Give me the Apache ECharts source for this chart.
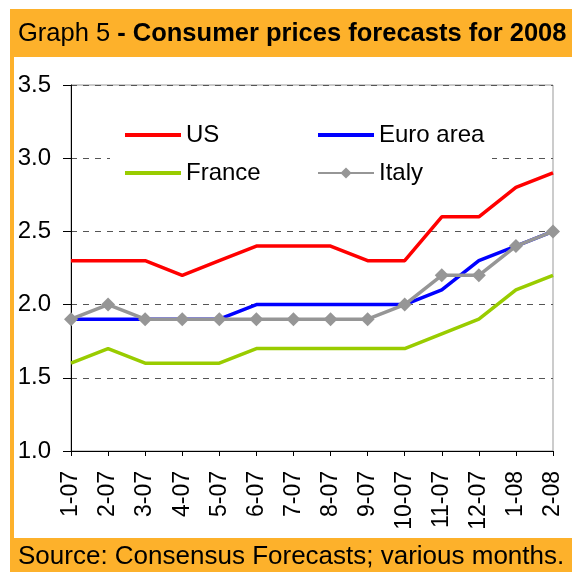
<!DOCTYPE html>
<html>
<head>
<meta charset="utf-8">
<script src="https://cdn.jsdelivr.net/npm/echarts@6/dist/echarts.min.js"></script>
<style>
  html, body { margin: 0; padding: 0; background: #fff; }
  #chart { width: 572px; height: 572px; }
</style>
</head>
<body>
<div id="chart"></div>
<script>
// months of the survey
var months = ['1-07','2-07','3-07','4-07','5-07','6-07','7-07','8-07','9-07','10-07','11-07','12-07','1-08','2-08'];
var usData     = [2.3, 2.3, 2.3, 2.2, 2.3, 2.4, 2.4, 2.4, 2.3, 2.3, 2.6, 2.6, 2.8, 2.9];
var euroData   = [1.9, 1.9, 1.9, 1.9, 1.9, 2.0, 2.0, 2.0, 2.0, 2.0, 2.1, 2.3, 2.4, 2.5];
var franceData = [1.6, 1.7, 1.6, 1.6, 1.6, 1.7, 1.7, 1.7, 1.7, 1.7, 1.8, 1.9, 2.1, 2.2];
var italyData  = [1.9, 2.0, 1.9, 1.9, 1.9, 1.9, 1.9, 1.9, 1.9, 2.0, 2.2, 2.2, 2.4, 2.5];

var orange = '#FDB12B';
var font = 'Liberation Sans, Arial, sans-serif';

var lineSeries = function(name, data, color, marker){
  return {
    name: name,
    type: 'line',
    data: data,
    symbol: marker ? 'diamond' : 'none',
    symbolSize: 14,
    showSymbol: !!marker,
    itemStyle: { color: color },
    lineStyle: { color: color, width: 3.5 },
    emphasis: { disabled: true }
  };
};

var legendText = { fontFamily: font, fontSize: 24, color: '#000' };
var bar = 'path://M0,6h56v4h-56z';

var chart = echarts.init(document.getElementById('chart'));
chart.setOption({
  animation: false,
  backgroundColor: '#fff',
  graphic: [
    // orange frame and white panel
    { type: 'rect', z: -10, shape: { x: 10, y: 9, width: 562, height: 563 }, style: { fill: orange } },
    { type: 'rect', z: -9, shape: { x: 14, y: 57, width: 558, height: 481 }, style: { fill: '#fff' } },
    // white box behind the legend
    { type: 'rect', z: 1, shape: { x: 110, y: 112, width: 382, height: 80 }, style: { fill: '#fff' } }
  ],
  title: [{
    left: 18, top: 21, padding: 0,
    text: '{a|Graph 5 }{b|- Consumer prices forecasts for 2008}',
    textStyle: {
      fontWeight: 'normal',
      rich: {
        a: { fontFamily: font, fontSize: 25.5, fontWeight: 'normal', color: '#000' },
        b: { fontFamily: font, fontSize: 25.5, fontWeight: 'bold', color: '#000' }
      }
    }
  }, {
    left: 18, top: 544, padding: 0,
    text: 'Source: Consensus Forecasts; various months.',
    textStyle: { fontFamily: font, fontSize: 26, fontWeight: 'normal', color: '#000' }
  }],
  legend: [{
    left: 120, top: 118, orient: 'vertical', itemGap: 14,
    itemWidth: 56, itemHeight: 14,
    data: [{ name: 'US', icon: bar }, { name: 'France', icon: bar }],
    textStyle: legendText, z: 5
  }, {
    left: 312, top: 118, orient: 'vertical', itemGap: 14,
    itemWidth: 56, itemHeight: 14,
    data: [{ name: 'Euro area', icon: bar }, { name: 'Italy' }],
    textStyle: legendText, z: 5
  }],
  grid: { left: 71, right: 19, top: 85, bottom: 121, show: true, borderColor: '#999', borderWidth: 1 },
  xAxis: {
    type: 'category',
    data: months,
    boundaryGap: false,
    axisLine: { lineStyle: { color: '#000', width: 1 } },
    axisTick: { length: 5, lineStyle: { color: '#000' } },
    axisLabel: { rotate: 90, margin: 20, fontFamily: font, fontSize: 23, color: '#000' }
  },
  yAxis: {
    type: 'value',
    min: 1, max: 3.5, interval: 0.5,
    axisLine: { show: true, lineStyle: { color: '#000', width: 1 } },
    axisTick: { show: true, length: 8, lineStyle: { color: '#000' } },
    axisLabel: { margin: 20, fontFamily: font, fontSize: 24, color: '#000',
      formatter: function(v){ return v.toFixed(1); } },
    splitLine: { lineStyle: { color: '#555', type: [6, 6], width: 1 } }
  },
  series: [
    lineSeries('US', usData, '#FF0000'),
    lineSeries('Euro area', euroData, '#0000FF'),
    lineSeries('France', franceData, '#99CC00'),
    lineSeries('Italy', italyData, '#969696', true)
  ]
});
</script>
</body>
</html>
